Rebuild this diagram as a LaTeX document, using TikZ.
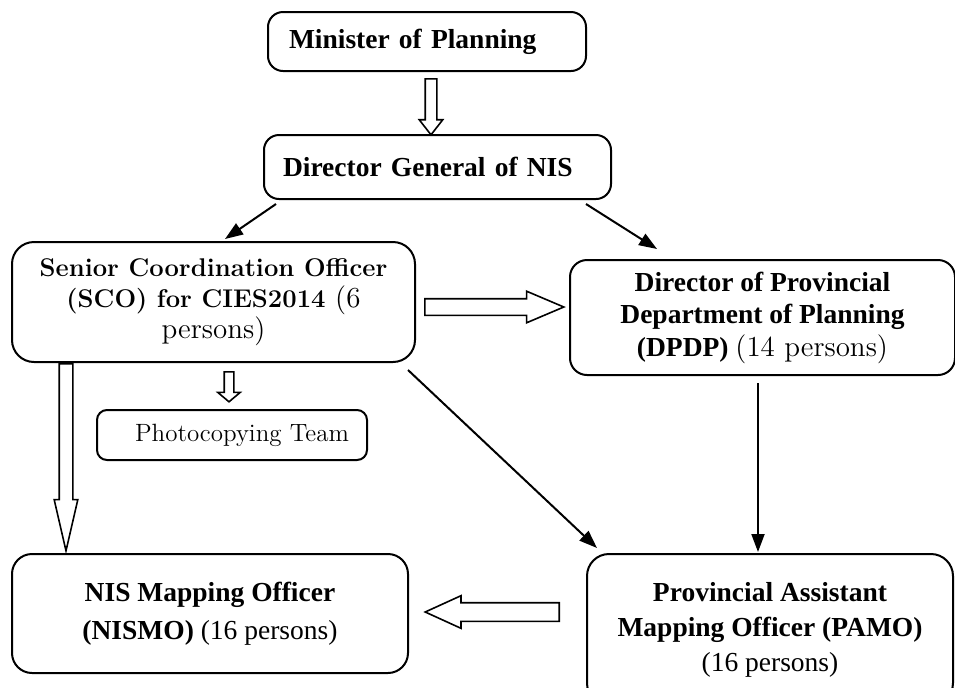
\documentclass[tikz,border=0pt]{standalone}
\usepackage{fontspec}
\newfontfamily\tnr{Liberation Serif}
\usetikzlibrary{arrows.meta,calc,shapes.arrows}

\tikzset{
  box/.style={draw, rounded corners=7.5pt, inner sep=0pt, align=center},
  tnrbox/.style={box, font=\tnr\bfseries\fontsize{13.75}{#1}\selectfont},
  blockarrow/.style={draw, single arrow, anchor=tail, inner xsep=0pt, line width=0.8pt, single arrow head indent=0pt},
}

\begin{document}
\begin{tikzpicture}[x=0.5pt, y=-0.5pt, line width=1pt, >={Triangle[length=9pt,width=6.5pt]}]
  \useasboundingbox (0,0) rectangle (955,687);
  \node(min)[tnrbox=17pt, minimum width=159pt, minimum height=29.5pt, text width=138pt, align=left] at (427,41.5) {Minister of Planning};
  \node(dg)[tnrbox=17pt, minimum width=173.5pt, minimum height=32pt, text width=154.5pt, align=left] at (437.5,167) {Director General of NIS};
  \node(sco)[box, rounded corners=11pt, minimum width=201.5pt, minimum height=60pt, font=\fontsize{12.8}{15.5}\selectfont] at (213.5,302)
    {\bfseries Senior Coordination Officer\\ \bfseries (SCO) for CIES2014 {\mdseries\fontsize{14.5}{15.5}\selectfont(6}\\ \mdseries\fontsize{14.5}{15.5}\selectfont persons)};
  \node(dpdp)[tnrbox=16.25pt, rounded corners=8.5pt, minimum width=192.5pt, minimum height=57.5pt] at (762.5,317.5)
    {Director of Provincial\\ Department of Planning\\ (DPDP) {\normalfont\fontsize{14.5}{16.25}\selectfont(14 persons)}};
  \node(photo)[box, rounded corners=5pt, minimum width=135pt, minimum height=25pt, font=\fontsize{12.5}{15}\selectfont] at (232,435) {\hspace*{10pt}Photocopying Team};
  \node(nismo)[tnrbox=19pt, rounded corners=10pt, minimum width=198pt, minimum height=59.5pt] at (210,613.5) {NIS Mapping Officer\\ (NISMO) {\mdseries(16 persons)}};
  \node(pamo)[tnrbox=17.5pt, rounded corners=11pt, minimum width=183pt, minimum height=75.5pt] at (770,629.5) {Provincial Assistant\\ Mapping Officer (PAMO)\\ \mdseries(16 persons)};

  \node(a1)[blockarrow, rotate=-90, inner ysep=2.5pt, minimum height=28pt, minimum width=11pt, single arrow head extend=3pt, single arrow tip angle=76] at ($(min.south)+(4,6)$) {};
  \node(a2)[blockarrow, inner ysep=3.75pt, minimum height=69.5pt, minimum width=15pt, single arrow head extend=3.75pt, single arrow tip angle=46] at ($(sco.east)+(8,5)$) {};
  \node(a3)[blockarrow, rotate=-90, inner ysep=2pt, minimum height=15pt, minimum width=10.5pt, single arrow head extend=3.25pt, single arrow tip angle=100] at ($(sco.south)+(15.5,8)$) {};
  \node(a4)[blockarrow, rotate=-90, inner ysep=3pt, minimum height=93.5pt, minimum width=11pt, single arrow head extend=2.5pt, single arrow tip angle=26] at ($(sco.south west)+(55,0)$) {};
  \node(a5)[blockarrow, rotate=180, inner ysep=4.25pt, minimum height=67pt, minimum width=15.5pt, single arrow head extend=3.5pt, single arrow tip angle=49] at ($(pamo.west)+(-26,-17.5)$) {};

  \draw[->] ($(dg.south west)+(13,4)$) -- ($(sco.north)+(11.5,-2)$);
  \draw[->] ($(dg.south east)+(-26,4)$) -- ($(dpdp.north west)+(88,-10)$);
  \draw[->] ($(sco.south east)+(-8,7)$) -- ($(pamo.north west)+(11,-5)$);
  \draw[->] ($(dpdp.south)+(-4.5,7)$) -- ($(pamo.north)+(-12,-1)$);
\end{tikzpicture}
\end{document}
